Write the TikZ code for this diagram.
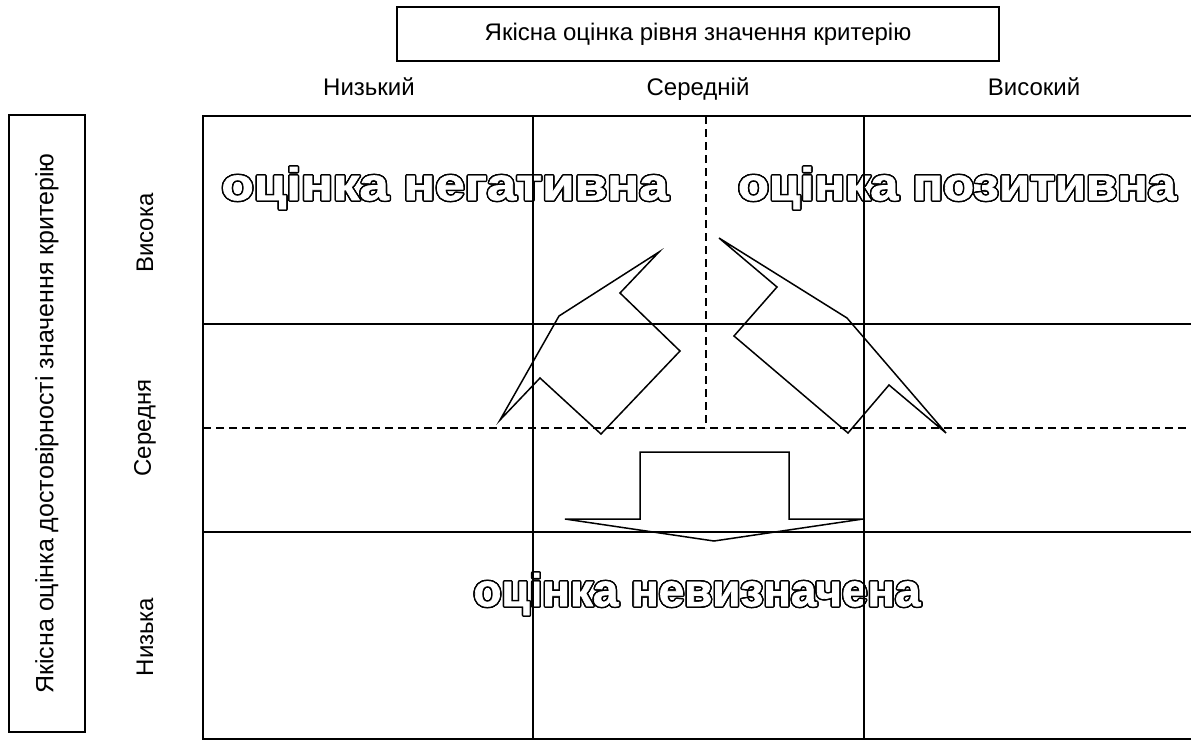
\documentclass[tikz,border=0pt]{standalone}
\usepackage{fontspec}
\setmainfont{Liberation Sans}
\newfontfamily\bigfont{Liberation Sans}[FakeBold=1.5]
\tikzset{
  gridline/.style={line width=1.6pt},
  dashline/.style={line width=1.3pt, dash pattern=on 8pt off 5pt},
  lbl/.style={font=\fontsize{24}{28}\selectfont, inner sep=0pt},
  frame/.style={draw, line width=1.6pt, inner sep=0pt},
  arrowshape/.style={draw, line width=1.5pt, line join=miter},
  bigtxt/.style={inner sep=0pt, anchor=base},
}
% #1 name, #2 position, #3 width, #4 text
\newcommand\outlinetext[4]{%
  \foreach \ang in {0,22.5,...,337.5} {\node[bigtxt, text=black, shift={(\ang:1.5pt)}] at (#2) {\resizebox{#3}{33pt}{\bigfont\bfseries #4}};}
  \node[bigtxt, text=white] (#1) at (#2) {\resizebox{#3}{33pt}{\bigfont\bfseries #4}};}
\begin{document}
\begin{tikzpicture}[x=1pt,y=-1pt]
\useasboundingbox (0,0) rectangle (1191,740);
% headers
\node[frame, lbl, minimum width=602pt, minimum height=54pt] (topbox) at (698,34) {};
\node[lbl, anchor=base] (toptxt) at (698,40) {Якісна оцінка рівня значення критерію};
\node[lbl, anchor=base] (clow) at (369,95) {Низький};
\node[lbl, anchor=base] (cmid) at (698,95) {Середній};
\node[lbl, anchor=base] (chigh) at (1034,95) {Високий};
\node[frame, lbl, font=\fontsize{25}{29}\selectfont, minimum width=617pt, minimum height=76pt, rotate=90] (leftbox) at (47,423.5) {Якісна оцінка достовірності значення критерію};
\node[lbl, rotate=90] (rhigh) at (145,233) {Висока};
\node[lbl, rotate=90] (rmid) at (145,428) {Середня};
\node[lbl, rotate=90] (rlow) at (145,637) {Низька};
% big outlined labels
\coordinate (pneg) at (445,200);
\coordinate (ppos) at (957,200);
\coordinate (punc) at (697,606);
\outlinetext{tneg}{pneg}{447pt}{оцінка негативна}
\outlinetext{tpos}{ppos}{438pt}{оцінка позитивна}
\outlinetext{tunc}{punc}{447pt}{оцінка невизначена}
% grid
\draw[gridline] (1191,116) -- (203,116) -- (203,739) -- (1191,739);
\draw[gridline] (203,324) -- (1191,324);
\draw[gridline] (203,532) -- (1191,532);
\draw[gridline] (533,116) -- (533,739);
\draw[gridline] (864,116) -- (864,739);
\draw[dashline] (706,116) -- (706,428);
\draw[dashline] (203,428) -- (1191,428);
% arrows
\draw[arrowshape] (659,252) -- (620,293) -- (680,351) -- (601,434) -- (540,378) -- (500,420) -- (559,316) -- cycle;
\draw[arrowshape] (719,238) -- (777,287) -- (734,336) -- (848,433) -- (889,385) -- (946,433) -- (847,318) -- cycle;
\draw[arrowshape] (640,452) -- (789,452) -- (789,519) -- (863,519) -- (714,541) -- (565,519) -- (640,519) -- cycle;
\end{tikzpicture}
\end{document}
